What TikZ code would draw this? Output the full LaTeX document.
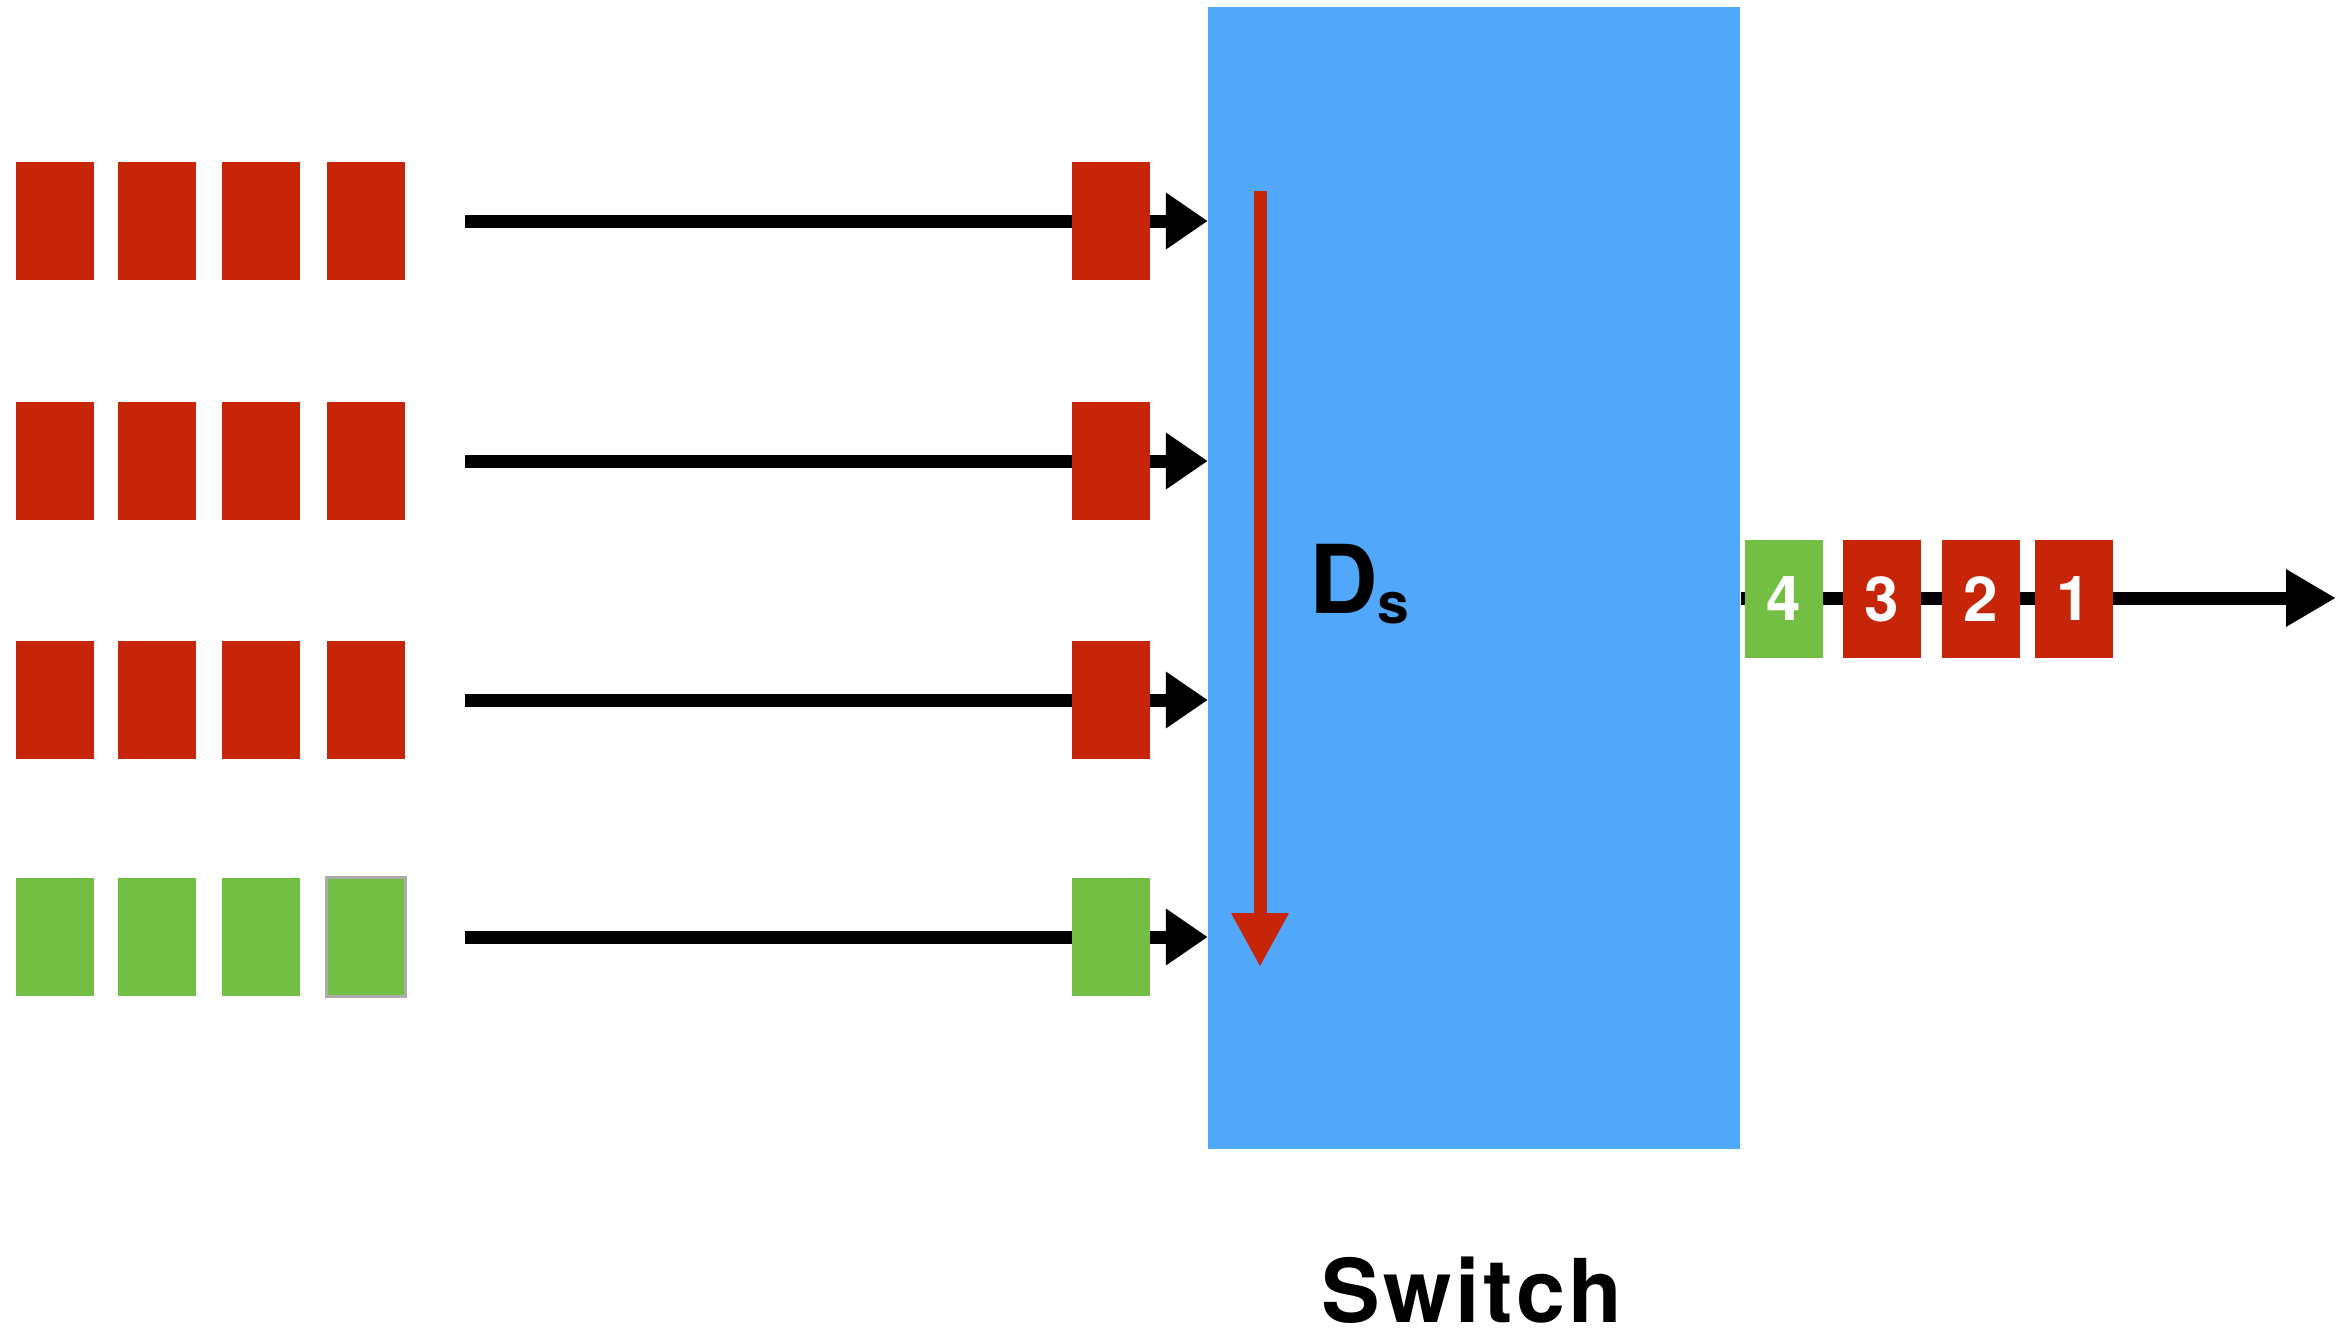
\documentclass[tikz,border=0pt]{standalone}
\usepackage{fontspec}
\setmainfont{TeX Gyre Heros}
\usetikzlibrary{arrows.meta,positioning}
\definecolor{pktred}{RGB}{198,37,8}
\definecolor{pktgreen}{RGB}{114,191,68}
\definecolor{swblue}{RGB}{81,167,249}

\begin{document}
\begin{tikzpicture}[x=1pt, y=-1pt,
    pkt/.style={minimum width=78pt, minimum height=118pt, inner sep=0pt, fill=#1},
    pkt/.default=pktred,
    num/.style={pkt=#1, text=white, font=\bfseries\fontsize{62}{62}\selectfont},
    ar/.style={-{Triangle[length=42pt, width=54pt]}, line width=13pt},
    oar/.style={-{Triangle[length=50pt, width=54pt]}, line width=13pt},
    rar/.style={-{Triangle[length=54pt, width=54pt]}, line width=13pt, draw=pktred}
  ]
  \useasboundingbox (0,0) rectangle (2336,1335);

  \node[fill=swblue, inner sep=0pt, minimum width=532pt, minimum height=1142pt] (sw) at (1474,578) {};

  % input queues
  \foreach \r/\y/\c in {1/221/pktred, 2/461/pktred, 3/700/pktred, 4/937/pktgreen} {
    \foreach \i/\x in {1/55, 2/157, 3/261, 4/366}
      \node[pkt=\c] (q\r\i) at (\x,\y) {};
    \coordinate[right=60pt of q\r4] (in\r);
    \draw[ar] (in\r) -- (in\r -| sw.west);
    \node[pkt=\c] (h\r) at (1111,\y) {};
  }
  \draw[gray!65, line width=3pt] (q44.south west) rectangle (q44.north east);

  % delay inside the switch
  \coordinate (dtop) at (1260,191);
  \coordinate (dbot) at (1260,967);
  \draw[rar] (dtop) -- (dbot);
  \node[anchor=base west, inner sep=0pt, font=\bfseries\fontsize{95}{95}\selectfont] (ds)
       at (1309,613) {D\raisebox{-10pt}{\fontsize{57}{57}\selectfont s}};

  % output link
  \coordinate (out0) at (1741,598);
  \coordinate (out1) at (2336,598);
  \draw[oar] (out0) -- (out1);
  \node[num=pktgreen] (o4) at (1784,599) {4};
  \node[num=pktred] (o3) at (1882,599) {3};
  \node[num=pktred] (o2) at (1981,599) {2};
  \node[num=pktred] (o1) at (2074,599) {1};

  \node[anchor=base, inner sep=0pt, font=\bfseries\fontsize{88}{88}\selectfont] (lbl)
       at (1472,1322) {\addfontfeature{LetterSpace=4}Switch};
\end{tikzpicture}
\end{document}
